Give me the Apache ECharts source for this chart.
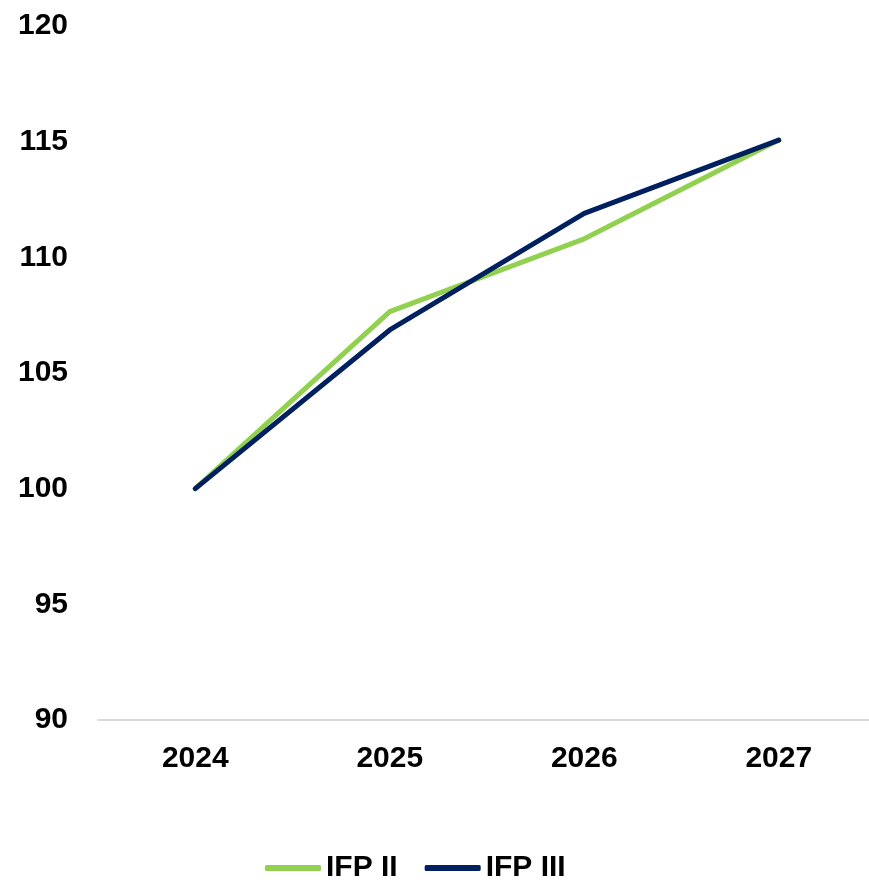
<!DOCTYPE html>
<html>
<head>
<meta charset="utf-8">
<script src="https://cdn.jsdelivr.net/npm/echarts@6/dist/echarts.min.js"></script>
<style>
  html, body { margin: 0; padding: 0; background: #ffffff; overflow: hidden; }
  #chart { width: 869px; height: 883px; }
</style>
</head>
<body>
<div id="chart"></div>
<script>
// Index levels (2024 = 100)
const years = ['2024', '2025', '2026', '2027'];
const ifp2 = [100, 107.65, 110.8, 115.07];
const ifp3 = [100, 106.86, 111.9, 115.07];
const seriesNames = ['IFP II', 'IFP III'];

const FONT = 'Liberation Sans, Arial, sans-serif';

const chart = echarts.init(document.getElementById('chart'), null, { renderer: 'canvas' });
chart.setOption({
  animation: false,
  backgroundColor: '#ffffff',
  grid: { left: 98, width: 778, top: 26, height: 694, containLabel: false, outerBoundsMode: 'none' },
  legend: {
    left: 260,
    top: 848,
    itemWidth: 56,
    itemHeight: 6,
    itemGap: 27,
    icon: 'roundRect',
    textStyle: { fontFamily: FONT, fontWeight: 'bold', fontSize: 30, color: '#000000' },
    data: seriesNames
  },
  xAxis: {
    type: 'category',
    data: years,
    boundaryGap: true,
    axisLine: { show: true, lineStyle: { color: '#d9d9d9', width: 2 } },
    axisTick: { show: false },
    axisLabel: { margin: 24, fontFamily: FONT, fontWeight: 'bold', fontSize: 30, color: '#000000' },
    splitLine: { show: false }
  },
  yAxis: {
    type: 'value',
    min: 90,
    max: 120,
    interval: 5,
    axisLine: { show: false },
    axisTick: { show: false },
    axisLabel: { margin: 30, fontFamily: FONT, fontWeight: 'bold', fontSize: 30, color: '#000000' },
    splitLine: { show: false }
  },
  series: [
    {
      name: seriesNames[0],
      type: 'line',
      data: ifp2,
      symbol: 'none',
      color: '#92D050',
      lineStyle: { color: '#92D050', width: 5, cap: 'round', join: 'round' },
      z: 2
    },
    {
      name: seriesNames[1],
      type: 'line',
      data: ifp3,
      symbol: 'none',
      color: '#002060',
      lineStyle: { color: '#002060', width: 5, cap: 'round', join: 'round' },
      z: 3
    }
  ]
});
</script>
</body>
</html>
